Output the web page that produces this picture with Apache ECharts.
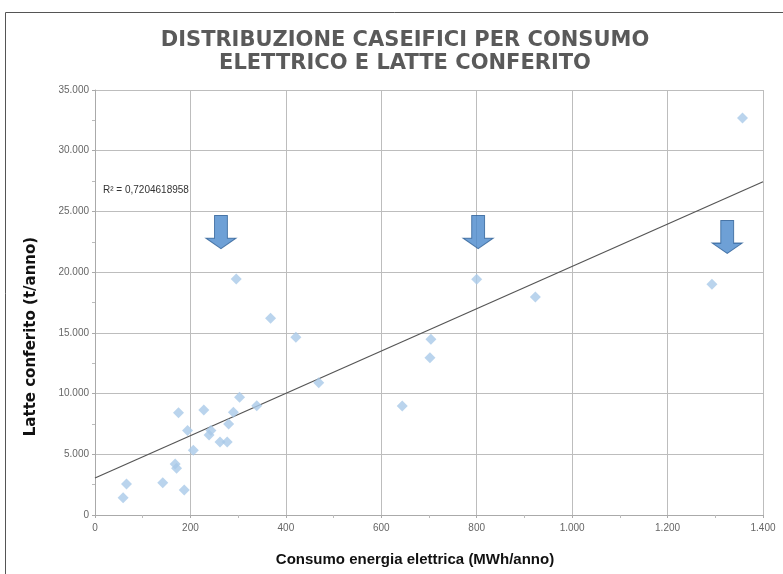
<!DOCTYPE html>
<html lang="it">
<head>
<meta charset="UTF-8">
<title>Distribuzione caseifici</title>
<script src="https://cdn.jsdelivr.net/npm/echarts@6/dist/echarts.min.js"></script>
<style>
  html, body { margin: 0; padding: 0; background: #fff; }
  #chart { width: 783px; height: 574px; }
</style>
</head>
<body>
<div id="chart"></div>
<script>
// consumo energia elettrica (MWh/anno)
var consumo = [59, 66, 142, 168, 171, 175, 187, 194, 206, 228, 239, 243, 262, 277, 280, 290,
               296, 303, 339, 368, 421, 469, 644, 702, 704, 800, 923, 1293, 1357];
// latte conferito (t/anno)
var latte = [1420, 2550, 2660, 4200, 3850, 8430, 2060, 6950, 5330, 8650, 6590, 6950, 6010, 6010, 7500, 8460,
             19440, 9700, 9000, 16200, 14640, 10900, 8980, 12960, 14470, 19420, 17960, 19000, 32700];
// linea di tendenza
var trendX = [0, 1400];
var trendY = [3050, 27450];
// frecce
var arrowX = [264, 803, 1325];
var arrowY = [23300, 23300, 22900];
var r2Text = 'R² = 0,7204618958';

var pts = consumo.map(function (v, i) { return [v, latte[i]]; });
var fmt = function (v) { return v.toString().replace(/\B(?=(\d{3})+(?!\d))/g, '.'); };

var chart = echarts.init(document.getElementById('chart'));
chart.setOption({
  animation: false,
  title: {
    text: 'DISTRIBUZIONE CASEIFICI PER CONSUMO\nELETTRICO E LATTE CONFERITO',
    left: 400, top: 24, textAlign: 'center',
    textStyle: { fontFamily: 'DejaVu Sans', fontWeight: 'bold', fontSize: 21, color: '#5a5a5a', lineHeight: 23 }
  },
  graphic: [
    { type: 'rect', shape: { x: 5.5, y: 12.5, width: 820, height: 620 }, style: { fill: null, stroke: '#555', lineWidth: 1 }, z: -1 },
    { type: 'text', left: 103, top: 185, style: { text: r2Text, font: '10px "Liberation Sans"', fill: '#333' } }
  ],
  grid: { left: 95, right: 20, top: 90, bottom: 59 },
  xAxis: {
    type: 'value', min: 0, max: 1400, interval: 200,
    name: 'Consumo energia elettrica (MWh/anno)', nameLocation: 'middle', nameGap: 37,
    nameTextStyle: { fontFamily: 'Liberation Sans', fontWeight: 'bold', fontSize: 15, color: '#111', padding: [0, 28, 0, 0] },
    axisLine: { lineStyle: { color: '#aaa' } },
    axisTick: { show: true, length: 3, lineStyle: { color: '#aaa' } },
    minorTick: { show: true, splitNumber: 2, length: 3, lineStyle: { color: '#bbb' } },
    axisLabel: { fontSize: 10, color: '#666', fontFamily: 'Liberation Sans', margin: 8, formatter: fmt },
    splitLine: { show: true, lineStyle: { color: '#bdbdbd' } }
  },
  yAxis: {
    type: 'value', min: 0, max: 35000, interval: 5000,
    name: 'Latte conferito (t/anno)', nameLocation: 'middle', nameGap: 56, nameRotate: 90,
    nameTextStyle: { fontFamily: 'DejaVu Sans', fontWeight: 'bold', fontSize: 15, color: '#111', padding: [0, 68, 0, 0] },
    axisLine: { show: true, lineStyle: { color: '#aaa' } },
    axisTick: { show: true, length: 3, lineStyle: { color: '#aaa' } },
    minorTick: { show: true, splitNumber: 2, length: 3, lineStyle: { color: '#bbb' } },
    axisLabel: { fontSize: 10, color: '#666', fontFamily: 'Liberation Sans', margin: 6, formatter: fmt },
    splitLine: { show: true, lineStyle: { color: '#bdbdbd' } }
  },
  series: [
    {
      type: 'scatter', data: pts, symbol: 'diamond', symbolSize: 11,
      itemStyle: { color: '#a9c9e8' }, z: 3
    },
    {
      type: 'line', data: trendX.map(function (v, i) { return [v, trendY[i]]; }),
      symbol: 'none', lineStyle: { color: '#555', width: 1.2 }, z: 2
    },
    {
      type: 'scatter', data: arrowX.map(function (v, i) { return [v, arrowY[i]]; }),
      symbol: 'path://M4,0 L10,0 L10,11 L14,11 L7,16 L0,11 L4,11 Z', symbolSize: [30, 33],
      itemStyle: { color: '#4a88cc', borderColor: '#2d5f96', borderWidth: 1 }, z: 4
    }
  ]
});
</script>
</body>
</html>
